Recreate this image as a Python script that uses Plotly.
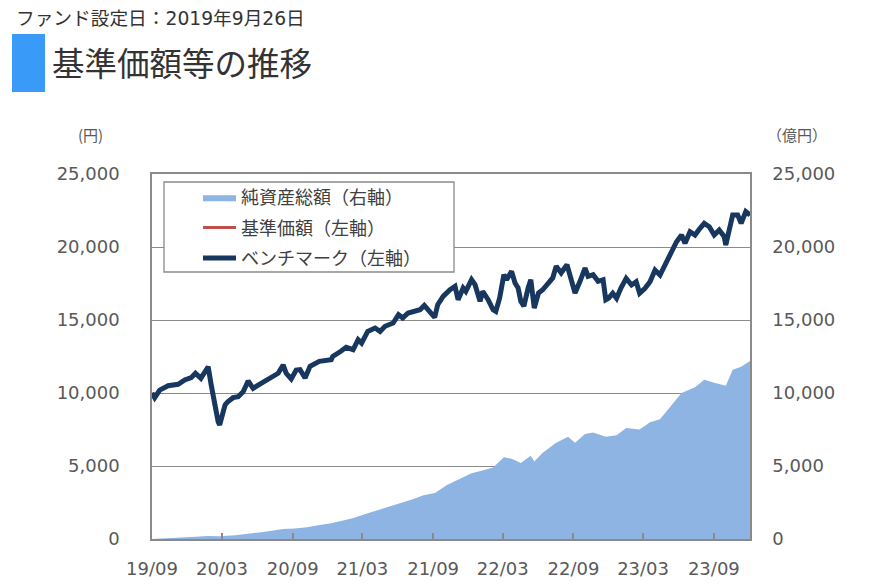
import plotly.graph_objects as go

# ---------------- data ----------------
line_dates = [
    "2019-09-26", "2019-10-03", "2019-10-16", "2019-11-07", "2019-12-03", "2019-12-20",
    "2020-01-06", "2020-01-17", "2020-01-31", "2020-02-19", "2020-02-27", "2020-03-06",
    "2020-03-16", "2020-03-20", "2020-03-27", "2020-04-03", "2020-04-10", "2020-04-24",
    "2020-05-07", "2020-05-20", "2020-06-02", "2020-06-15", "2020-06-26", "2020-07-15",
    "2020-08-06", "2020-08-19", "2020-09-01", "2020-09-09", "2020-09-22", "2020-10-05",
    "2020-10-15", "2020-10-28", "2020-11-10", "2020-12-04", "2021-01-04", "2021-01-08",
    "2021-01-29", "2021-02-12", "2021-03-02", "2021-03-15", "2021-03-24", "2021-04-09",
    "2021-04-28", "2021-05-11", "2021-05-24", "2021-06-14", "2021-06-28", "2021-07-09",
    "2021-07-23", "2021-08-10", "2021-08-23", "2021-09-03", "2021-09-17", "2021-09-30",
    "2021-10-08", "2021-10-22", "2021-11-09", "2021-11-22", "2021-11-30", "2021-12-13",
    "2021-12-20", "2022-01-04", "2022-01-13", "2022-01-26", "2022-02-02", "2022-02-16",
    "2022-03-01", "2022-03-08", "2022-03-18", "2022-03-29", "2022-04-05", "2022-04-18",
    "2022-04-27", "2022-05-05", "2022-05-12", "2022-05-20", "2022-05-31", "2022-06-07",
    "2022-06-16", "2022-06-27", "2022-07-08", "2022-07-22", "2022-08-03", "2022-08-12",
    "2022-08-25", "2022-09-09", "2022-09-21", "2022-09-30", "2022-10-13", "2022-10-26",
    "2022-11-03", "2022-11-16", "2022-11-29", "2022-12-12", "2022-12-19", "2022-12-26",
    "2023-01-06", "2023-01-16", "2023-01-27", "2023-02-10", "2023-02-24", "2023-03-08",
    "2023-03-17", "2023-03-31", "2023-04-13", "2023-04-26", "2023-05-09", "2023-05-26",
    "2023-06-08", "2023-06-21", "2023-07-04", "2023-07-13", "2023-07-26", "2023-08-08",
    "2023-08-21", "2023-09-01", "2023-09-14", "2023-09-27", "2023-10-10", "2023-10-23",
    "2023-10-27", "2023-11-06", "2023-11-14", "2023-11-27", "2023-12-06", "2023-12-18",
    "2023-12-29",
]

benchmark_values = [
    10000, 9680, 10200, 10500, 10600, 10890,
    11050, 11350, 11000, 11800, 10550, 9180,
    8030, 7810, 8490, 9180, 9400, 9680,
    9750, 10090, 10820, 10320, 10500, 10820,
    11120, 11350, 11920, 11350, 10960, 11570,
    11600, 11030, 11830, 12170, 12280, 12510,
    12860, 13130, 12970, 13650, 13420, 14220,
    14450, 14220, 14570, 14790, 15360, 15140,
    15480, 15590, 15700, 16000, 15590, 15180,
    16050, 16620, 17070, 17300, 16390, 17190,
    16960, 17760, 17420, 16280, 16960, 16390,
    15700, 15590, 16510, 18100, 17760, 18330,
    17530, 17190, 16280, 15940, 17190, 17760,
    15820, 16850, 17070, 17530, 17880, 18680,
    18220, 18790, 17760, 16850, 17650, 18560,
    17990, 18100, 17650, 17760, 16390, 16490,
    16830, 16490, 17170, 17850, 17400, 17620,
    16830, 17170, 17620, 18420, 18080, 18990,
    19570, 20360, 20820, 20250, 21050, 20820,
    21280, 21620, 21390, 20820, 21160, 20710,
    20140, 21390, 22190, 22190, 21620, 22420,
    22190,
]

nav_values = [
    10000, 9680, 10200, 10500, 10600, 10890,
    11050, 11350, 11000, 11800, 10550, 9180,
    8030, 7810, 8490, 9180, 9400, 9680,
    9750, 10090, 10820, 10320, 10500, 10820,
    11120, 11350, 11920, 11350, 10960, 11570,
    11600, 11030, 11830, 12170, 12280, 12510,
    12860, 13130, 12970, 13650, 13420, 14220,
    14450, 14220, 14570, 14790, 15360, 15140,
    15480, 15590, 15700, 16000, 15590, 15180,
    16050, 16620, 17070, 17300, 16390, 17190,
    16960, 17760, 17420, 16280, 16960, 16390,
    15700, 15590, 16510, 18100, 17760, 18330,
    17530, 17190, 16280, 15940, 17190, 17760,
    15820, 16850, 17070, 17530, 17880, 18680,
    18220, 18790, 17760, 16850, 17650, 18560,
    17990, 18100, 17650, 17760, 16390, 16490,
    16830, 16490, 17170, 17850, 17400, 17620,
    16830, 17170, 17620, 18420, 18080, 18990,
    19570, 20360, 20820, 20250, 21050, 20820,
    21280, 21620, 21390, 20820, 21160, 20710,
    20140, 21390, 22190, 22190, 21620, 22420,
    22190,
]

aum_dates = [
    "2019-09-26", "2019-11-01", "2019-12-02", "2020-01-06", "2020-02-19", "2020-03-19",
    "2020-04-30", "2020-06-01", "2020-07-01", "2020-08-03", "2020-09-01", "2020-10-01",
    "2020-11-02", "2020-12-01", "2021-01-04", "2021-02-01", "2021-03-01", "2021-04-01",
    "2021-05-03", "2021-06-01", "2021-07-01", "2021-08-02", "2021-09-01", "2021-10-01",
    "2021-11-01", "2021-12-01", "2022-01-04", "2022-02-01", "2022-03-01", "2022-03-29",
    "2022-04-18", "2022-05-12", "2022-06-07", "2022-06-16", "2022-07-08", "2022-08-12",
    "2022-09-12", "2022-09-30", "2022-10-26", "2022-11-16", "2022-12-19", "2023-01-16",
    "2023-02-10", "2023-03-17", "2023-04-13", "2023-05-09", "2023-06-08", "2023-07-04",
    "2023-08-08", "2023-09-01", "2023-09-27", "2023-10-27", "2023-11-14", "2023-12-06",
    "2023-12-29",
]
aum_values = [
    0, 30, 80, 130, 200, 180,
    260, 380, 450, 560, 680, 720,
    800, 950, 1080, 1250, 1420, 1700,
    1950, 2200, 2450, 2700, 3000, 3150,
    3700, 4100, 4500, 4700, 4900, 5600,
    5500, 5200, 5700, 5300, 5900, 6600,
    7000, 6600, 7200, 7300, 7000, 7100,
    7600, 7500, 8000, 8200, 9200, 10000,
    10400, 10900, 10700, 10500, 11600, 11800,
    12200,
]

x_range = ["2019-09-26", "2023-12-29"]
tick_dates = ["2019-09-26", "2020-03-26", "2020-09-26", "2021-03-26", "2021-09-26",
              "2022-03-26", "2022-09-26", "2023-03-26", "2023-09-26"]
tick_labels = ["19/09", "20/03", "20/09", "21/03", "21/09", "22/03", "22/09", "23/03", "23/09"]
y_ticks = [0, 5000, 10000, 15000, 20000, 25000]

series_names = ["純資産総額（右軸）", "基準価額（左軸）", "ベンチマーク（左軸）"]
title_text = "基準価額等の推移"
subtitle_text = "ファンド設定日：2019年9月26日"

# ---------------- styles ----------------
FONT = "DejaVu Sans, Noto Sans CJK JP, sans-serif"
CJK = "Noto Sans CJK JP, DejaVu Sans, sans-serif"
AX_COL = "#8a8a8a"
TXT = "#595959"

fig = go.Figure()
fig.add_trace(go.Scatter(
    x=aum_dates, y=aum_values, name=series_names[0], mode="lines",
    fill="tozeroy", fillcolor="#8DB4E2", line=dict(width=0, color="#8DB4E2"),
    yaxis="y2", legendgroup="g1"))
fig.add_trace(go.Scatter(
    x=line_dates, y=nav_values, name=series_names[1], mode="lines",
    line=dict(width=3, color="#C0504D"), legendgroup="g2"))
fig.add_trace(go.Scatter(
    x=line_dates, y=benchmark_values, name=series_names[2], mode="lines",
    line=dict(width=5, color="#17375E"), legendgroup="g3"))

L, R, T, B = 152, 121, 174, 46
W, H = 871, 585
pw, ph = W - L - R, H - T - B


def px(x):
    return (x - L) / pw


def py(y):
    return (H - B - y) / ph


fig.update_layout(
    width=W, height=H,
    margin=dict(l=L, r=R, t=T, b=B, pad=0),
    paper_bgcolor="white", plot_bgcolor="white",
    showlegend=True,
    legend=dict(
        x=px(198), y=py(179), xanchor="left", yanchor="top",
        bgcolor="rgba(0,0,0,0)", borderwidth=0,
        font=dict(family=CJK, size=18, color="#404040"),
        tracegroupgap=4, itemwidth=33,
    ),
    xaxis=dict(
        type="date", range=x_range, tickmode="array",
        tickvals=tick_dates, ticktext=tick_labels,
        ticks="inside", ticklen=6, tickcolor=AX_COL, tickwidth=1.5,
        showline=True, linecolor=AX_COL, linewidth=1.5, mirror=True,
        showgrid=False, zeroline=False, automargin=False,
        tickfont=dict(family=FONT, size=18, color=TXT),
        ticklabelstandoff=13,
    ),
    yaxis=dict(
        range=[0, 25000], tickmode="array", tickvals=y_ticks,
        tickformat=",", showgrid=True, gridcolor=AX_COL, gridwidth=1.3,
        showline=True, linecolor=AX_COL, linewidth=1.5, zeroline=False,
        ticks="", automargin=False,
        tickfont=dict(family=FONT, size=18, color=TXT),
        ticklabelstandoff=27,
    ),
    yaxis2=dict(
        range=[0, 25000], tickmode="array", tickvals=y_ticks,
        tickformat=",", overlaying="y", side="right", showgrid=False,
        showline=True, linecolor=AX_COL, linewidth=1.5, zeroline=False,
        ticks="", automargin=False,
        tickfont=dict(family=FONT, size=18, color=TXT),
        ticklabelstandoff=17,
    ),
    shapes=[
        dict(type="rect", xref="paper", yref="paper",
             x0=px(12), x1=px(45), y0=py(92), y1=py(34),
             fillcolor="#3A9AF8", line=dict(width=0)),
        dict(type="rect", xref="paper", yref="paper", layer="above",
             x0=px(164), x1=px(454), y0=py(272), y1=py(182),
             fillcolor="white", line=dict(color=AX_COL, width=1.3)),
    ],
    annotations=[
        dict(text=subtitle_text, xref="paper", yref="paper", x=px(14), y=py(18),
             xanchor="left", yanchor="middle", showarrow=False,
             font=dict(family=FONT, size=18.7, color="#333333")),
        dict(text=title_text, xref="paper", yref="paper", x=px(50), y=py(62),
             xanchor="left", yanchor="middle", showarrow=False,
             font=dict(family=CJK, size=32.5, color="#333333")),
        dict(text="(円)", xref="paper", yref="paper", x=px(90), y=py(134),
             xanchor="center", yanchor="middle", showarrow=False,
             font=dict(family=CJK, size=15, color=TXT)),
        dict(text="（億円）", xref="paper", yref="paper", x=px(797), y=py(134),
             xanchor="center", yanchor="middle", showarrow=False,
             font=dict(family=CJK, size=15, color=TXT)),
    ],
)

fig.write_html("out.html")
